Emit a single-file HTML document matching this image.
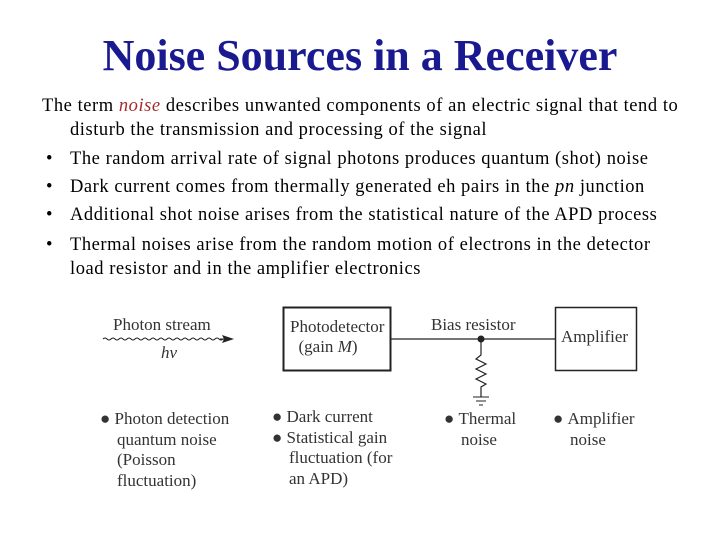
<!DOCTYPE html>
<html><head><style>
body{margin:0;width:720px;height:540px;background:#fff;overflow:hidden;position:relative;font-family:"Liberation Serif",serif}
.t{position:absolute;left:0;width:720px;text-align:center;top:30px;font-size:44px;font-weight:bold;font-style:normal;color:#1a1a90}
.p{position:absolute;left:42px;font-size:18.5px;letter-spacing:0.55px;color:#000;white-space:nowrap}
.d{position:absolute;font-size:17px;color:#333;line-height:20.5px;white-space:nowrap}
</style></head><body>
<div class="t">Noise Sources in a Receiver</div>
<div class="p" style="top:96px">The term <span style="color:#a52a2a;font-style:italic">noise</span> describes unwanted components of an electric signal that tend to</div>
<div class="p" style="top:120px;left:70px">disturb the transmission and processing of the signal</div>
<div class="p" style="top:149px;left:70px"><span style="position:absolute;left:-24px">•</span>The random arrival rate of signal photons produces quantum (shot) noise</div>
<div class="p" style="top:177px;left:70px"><span style="position:absolute;left:-24px">•</span>Dark current comes from thermally generated eh pairs in the <i>pn</i> junction</div>
<div class="p" style="top:205px;left:70px"><span style="position:absolute;left:-24px">•</span>Additional shot noise arises from the statistical nature of the APD process</div>
<div class="p" style="top:235px;left:70px"><span style="position:absolute;left:-24px">•</span>Thermal noises arise from the random motion of electrons in the detector</div>
<div class="p" style="top:259px;left:70px">load resistor and in the amplifier electronics</div>
<svg style="position:absolute;left:0;top:0" width="720" height="540">
<g stroke="#222" fill="none">
<rect x="283.5" y="307.5" width="107" height="63" stroke-width="2"/>
<rect x="555.5" y="307.5" width="81" height="63" stroke-width="1.5"/>
<line x1="390" y1="339" x2="555" y2="339" stroke-width="1.2"/>
<path d="M481 339 V355 l-5 4 l10 5 l-10 5 l10 5 l-10 5 l10 5 l-5 3 V397" stroke-width="1.2"/>
<line x1="473" y1="397" x2="489" y2="397"/><line x1="476" y1="401" x2="486" y2="401"/><line x1="479" y1="405" x2="483" y2="405"/>
<path d="M103 339 q2 -2 4 0 t4 0 t4 0 t4 0 t4 0 t4 0 t4 0 t4 0 t4 0 t4 0 t4 0 t4 0 t4 0 t4 0 t4 0 t4 0 t4 0 t4 0 t4 0 t4 0 t4 0 t4 0 t4 0 t4 0 t4 0 t4 0 t4 0 t4 0 t4 0 t4 0" stroke-width="1"/>
<line x1="220" y1="339" x2="230" y2="339"/>
</g>
<polygon points="234,339 222,335 224,339 222,343" fill="#222"/>
<circle cx="481" cy="339" r="3.5" fill="#222"/>
</svg>
<div class="d" style="left:113px;top:315px">Photon stream</div>
<div class="d" style="left:161px;top:343px;font-style:italic">hν</div>
<div class="d" style="left:290px;top:317px;line-height:20px">Photodetector<br>&nbsp;&nbsp;(gain <i>M</i>)</div>
<div class="d" style="left:431px;top:315px">Bias resistor</div>
<div class="d" style="left:561px;top:327px">Amplifier</div>
<div class="d" style="left:100px;top:409px">●&nbsp;Photon detection<br>&nbsp;&nbsp;&nbsp;&nbsp;quantum noise<br>&nbsp;&nbsp;&nbsp;&nbsp;(Poisson<br>&nbsp;&nbsp;&nbsp;&nbsp;fluctuation)</div>
<div class="d" style="left:272px;top:407px">●&nbsp;Dark current<br>●&nbsp;Statistical gain<br>&nbsp;&nbsp;&nbsp;&nbsp;fluctuation (for<br>&nbsp;&nbsp;&nbsp;&nbsp;an APD)</div>
<div class="d" style="left:444px;top:409px">●&nbsp;Thermal<br>&nbsp;&nbsp;&nbsp;&nbsp;noise</div>
<div class="d" style="left:553px;top:409px">●&nbsp;Amplifier<br>&nbsp;&nbsp;&nbsp;&nbsp;noise</div>
</body></html>
